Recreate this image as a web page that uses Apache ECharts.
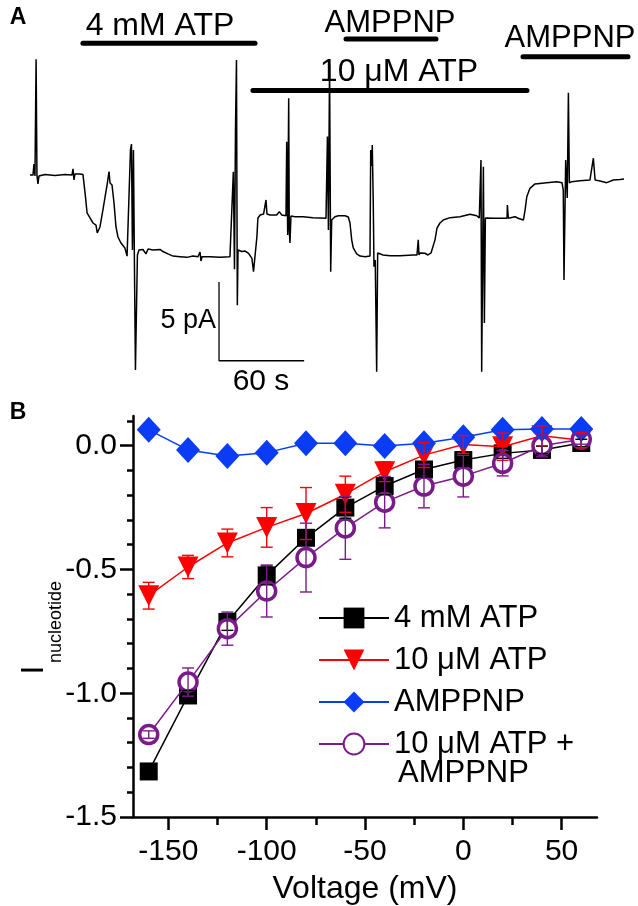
<!DOCTYPE html>
<html><head><meta charset="utf-8">
<script src="https://cdn.jsdelivr.net/npm/echarts@6/dist/echarts.min.js"></script>
<style>html,body{margin:0;padding:0;background:#fff}#c{width:638px;height:906px}</style>
</head><body><div id="c"></div>
<script>
const FONT = '"Liberation Sans", Arial, Helvetica, sans-serif';

// ---------- Panel A: current trace (time in s, current in pA) ----------
const traceTime = [0, 2.1, 2.8, 3.5, 4.3, 4.9, 5.6, 6.3, 10.6, 17.6,
  24.7, 29.6, 30.3, 31.0, 31.7, 35.2, 37.3, 38.8, 40.2, 42.3,
  44.4, 46.5, 47.4, 49.3, 51.4, 52.9, 54.3, 55.7, 56.4, 57.8,
  59.2, 60.6, 62.0, 64.1, 66.9, 68.4, 69.8, 70.8, 71.5, 72.2,
  72.9, 73.6, 74.3, 75.0, 75.7, 76.8, 79.6, 81.0, 81.7, 83.2,
  86.7, 91.6, 93.7, 97.2, 100.8, 105.7, 110.6, 114.9, 118.4, 119.8,
  120.5, 121.2, 126.8, 133.9, 140.9, 142.3, 143.3, 144.1, 144.8, 145.5,
  146.1, 146.6, 147.5, 149.2, 151.6, 154.0, 156.4, 157.5, 158.7, 159.9,
  160.6, 162.2, 164.6, 166.3, 167.0, 169.1, 173.8, 175.7, 177.4, 180.4,
  180.9, 181.6, 182.3, 182.7, 183.2, 183.9, 186.7, 192.4, 199.4, 204.4,
  208.6, 209.6, 210.3, 211.1, 211.9, 212.6, 213.7, 214.9, 217.3, 222.0,
  224.3, 225.5, 226.7, 227.8, 230.2, 232.6, 236.1, 239.6, 240.1, 240.8,
  241.2, 241.9, 242.4, 243.3, 244.3, 245.0, 246.2, 248.8, 253.7, 260.7,
  270.1, 272.7, 273.6, 274.1, 274.8, 278.3, 280.5, 282.6, 284.0, 285.4,
  286.8, 288.9, 291.2, 296.0, 303.0, 310.1, 314.8, 316.6, 317.8, 318.3,
  319.5, 320.2, 320.9, 321.8, 327.7, 333.3, 336.2, 336.4, 337.1, 341.8,
  343.9, 347.7, 348.9, 350.1, 352.3, 355.9, 364.1, 371.2, 374.9, 375.8,
  376.3, 377.5, 378.6, 379.4, 380.1, 381.7, 387.6, 394.6, 397.0, 398.2,
  401.7, 406.4, 411.1, 415.8, 418.6];
const traceCurrent = [0, 0, 0.7, -0.06, 7.35, 0, -0.56, -0.06, 0.04, -0.03,
  0.04, 0, 0.39, -0.31, 0.07, 0.07, 0.04, -1.13, -2.39, -2.72,
  -3.04, -3.17, -3.67, -3.29, -2.21, -1.39, -0.63, 0.22, -0.5, -0.63,
  -1.77, -3.29, -3.93, -4.31, -4.63, -5.14, -5.14, 1.59, 1.97, -4.75,
  1.59, -5.7, -12.37, -12.37, -5.07, -4.75, -4.72, -4.69, -5.0, -4.69,
  -4.75, -4.72, -4.85, -5.0, -5.14, -5.18, -5.22, -5.14, -5.18, -4.88,
  -5.45, -5.18, -5.18, -5.22, -5.18, -5.14, 0.21, -5.98, 2.84, 7.3,
  -8.25, -4.75, -4.75, -4.85, -4.82, -4.97, -5.28, -6.13, -6.19, -3.91,
  -2.72, -2.53, -2.47, -1.58, -2.47, -2.53, -2.53, -2.32, -2.53, -2.58,
  2.12, -3.8, 4.87, -3.48, -4.31, -2.6, -2.64, -2.64, -2.7, -2.72,
  -2.74, 2.44, -3.48, 7.0, -6.13, -2.85, -2.74, -2.64, -2.58, -2.58,
  -2.66, -3.04, -4.11, -4.62, -5.0, -5.14, -5.18, -5.14, 1.59, 0.58,
  1.91, -1.77, -5.81, -5.39, -12.47, -4.94, -4.86, -5.07, -5.11, -5.11,
  -5.07, -5.07, -4.11, -5.07, -4.94, -4.96, -5.07, -4.94, -5.0, -4.11,
  -3.36, -3.04, -2.85, -2.7, -2.64, -2.49, -2.58, -2.72, 0.96, -12.47,
  0.53, -9.38, -2.72, -2.74, -2.74, -2.74, -2.74, -1.9, -2.74, -2.64,
  -2.74, -2.85, -2.2, -1.37, -0.84, -0.56, -0.48, -0.42, -0.48, -0.95,
  -6.66, 0.96, -1.45, 5.23, -0.5, -0.42, -0.36, -0.31, 1.07, -0.31,
  -0.37, -0.48, -0.31, -0.28, -0.25];

// solution application bars (start s, end s, drawn level pA)
const barLabels = ['4 mM ATP', 'AMPPNP', '10 μM ATP', 'AMPPNP'];
const barStart = [37.3, 222.7, 157.1, 347.4];
const barEnd = [158.6, 286.1, 350.2, 421.4];
const barLevel = [8.36, 8.64, 5.36, 7.51];

// scale bar: 5 pA x 60 s
const scaleBarTime = [133.2, 133.2, 193.2];
const scaleBarCurrent = [-6.78, -11.78, -11.78];

// ---------- Panel B: I-V ----------
const voltage = [-160, -140, -120, -100, -80, -60, -40, -20, 0, 20, 40, 60];
const atp4mM = [-1.316, -1.009, -0.712, -0.524, -0.372, -0.25, -0.163, -0.096, -0.058, -0.031, -0.017, 0.011];
const atp4mMErr = [0.01, 0.02, 0.034, 0.038, 0.03, 0.043, 0.035, 0.03, 0.025, 0.02, 0.015, 0.015];
const atp10uM = [-0.606, -0.49, -0.393, -0.33, -0.274, -0.196, -0.105, -0.038, 0.005, -0.004, 0.04, 0.022];
const atp10uMErr = [0.054, 0.047, 0.056, 0.08, 0.105, 0.073, 0.04, 0.05, 0.036, 0.055, 0.04, 0.03];
const amppnp = [0.064, -0.017, -0.042, -0.028, 0.01, 0.01, -0.001, 0.01, 0.034, 0.064, 0.067, 0.067];
const atpAmppnp = [-1.167, -0.955, -0.739, -0.587, -0.452, -0.332, -0.228, -0.163, -0.123, -0.071, 0.0, 0.026];
const atpAmppnpErr = [0.015, 0.057, 0.067, 0.105, 0.139, 0.127, 0.104, 0.088, 0.084, 0.051, 0.045, 0.02];
const xMajorTicks = [-150, -100, -50, 0, 50];
const xMinorTicks = [-125, -75, -25, 25];
const yMajorTicks = [0, -0.5, -1.0, -1.5];
const yMinorTicks = [0.1, -0.1, -0.2, -0.3, -0.4, -0.6, -0.7, -0.8, -0.9, -1.1, -1.2, -1.3, -1.4];

const C_BLACK = '#000000', C_RED = '#ff0000', C_BLUE = '#0a3cf5', C_PURPLE = '#7b1b8b';
const NAME4 = '4 mM ATP', NAME10 = '10 μM ATP', NAMEA = 'AMPPNP', NAMEC = '10 μM ATP + AMPPNP';

const zip = (a, b) => a.map((v, i) => [v, b[i]]);
const zip3 = (a, b, c) => a.map((v, i) => [v, b[i], c[i]]);

function errorBarItem(color) {
  return function (params, api) {
    const x = api.value(0), m = api.value(1), e = api.value(2);
    const hi = api.coord([x, m + e]);
    const lo = api.coord([x, m - e]);
    const hw = 6;
    const st = { stroke: color, lineWidth: 1.4 };
    return { type: 'group', children: [
      { type: 'line', shape: { x1: hi[0], y1: hi[1], x2: lo[0], y2: lo[1] }, style: st },
      { type: 'line', shape: { x1: hi[0] - hw, y1: hi[1], x2: hi[0] + hw, y2: hi[1] }, style: st },
      { type: 'line', shape: { x1: lo[0] - hw, y1: lo[1], x2: lo[0] + hw, y2: lo[1] }, style: st }
    ]};
  };
}

function txt(text, x, y, size, align, vAlign, extra, weight) {
  return Object.assign({
    type: 'text', x: x, y: y, silent: true,
    style: { text: text, fill: '#000', fontSize: size, fontFamily: FONT, fontWeight: weight || 'normal',
      textAlign: align, textVerticalAlign: vAlign, align: align, verticalAlign: vAlign }
  }, extra || {});
}

const axisLineStyle = { color: '#000', width: 2.5 };

const chart = echarts.init(document.getElementById('c'), null, { renderer: 'canvas' });
chart.setOption({
  animation: false,
  backgroundColor: '#fff',
  grid: [
    { left: 30, top: 1.7, width: 596, height: 378.3 },
    { left: 133, top: 416, width: 464, height: 401 }
  ],
  xAxis: [
    { type: 'value', gridIndex: 0, min: 0, max: 420, show: false },
    { type: 'value', gridIndex: 1, min: -168, max: 68, position: 'bottom',
      axisLine: { show: true, onZero: false, lineStyle: axisLineStyle },
      axisTick: { show: true, length: 13, lineStyle: { color: '#000', width: 2.5 }, customValues: xMajorTicks },
      axisLabel: { show: true, margin: 20, fontSize: 30, fontFamily: FONT, color: '#000', customValues: xMajorTicks },
      splitLine: { show: false } },
    { type: 'value', gridIndex: 1, min: -168, max: 68, position: 'bottom',
      axisLine: { show: false, onZero: false },
      axisTick: { show: true, length: 8, lineStyle: { color: '#000', width: 2.5 }, customValues: xMinorTicks },
      axisLabel: { show: false }, splitLine: { show: false } }
  ],
  yAxis: [
    { type: 'value', gridIndex: 0, min: -13, max: 11, show: false },
    { type: 'value', gridIndex: 1, min: -1.5, max: 0.12, position: 'left',
      axisLine: { show: true, onZero: false, lineStyle: axisLineStyle },
      axisTick: { show: true, length: 13, lineStyle: { color: '#000', width: 2.5 }, customValues: yMajorTicks },
      axisLabel: { show: true, margin: 16, fontSize: 30, fontFamily: FONT, color: '#000',
        customValues: yMajorTicks, formatter: v => v.toFixed(1) },
      splitLine: { show: false } },
    { type: 'value', gridIndex: 1, min: -1.5, max: 0.12, position: 'left',
      axisLine: { show: false, onZero: false },
      axisTick: { show: true, length: 6, lineStyle: { color: '#000', width: 2.5 }, customValues: yMinorTicks },
      axisLabel: { show: false }, splitLine: { show: false } }
  ],
  legend: {
    orient: 'vertical', left: 313, top: 594, itemWidth: 70, itemHeight: 26, itemGap: 4,
    textStyle: { fontSize: 31, fontFamily: FONT, color: '#000', lineHeight: 38 },
    data: [NAME4, NAME10, NAMEA, NAMEC],
    formatter: n => n === NAMEC ? '10 μM ATP +' : n
  },
  series: [
    // Panel A trace
    { type: 'line', name: 'trace', xAxisIndex: 0, yAxisIndex: 0, data: zip(traceTime, traceCurrent),
      showSymbol: false, symbol: 'none', sampling: null,
      lineStyle: { color: '#000', width: 1.5 }, z: 2 },
    // scale bar
    { type: 'line', name: 'scale', xAxisIndex: 0, yAxisIndex: 0, data: zip(scaleBarTime, scaleBarCurrent),
      showSymbol: false, symbol: 'none', lineStyle: { color: '#000', width: 1.3 }, z: 2 },
    // application bars
    { type: 'custom', name: 'bars', xAxisIndex: 0, yAxisIndex: 0, clip: false,
      data: zip3(barStart, barEnd, barLevel), encode: { x: [0, 1], y: 2 },
      renderItem: function (params, api) {
        const a = api.coord([api.value(0), api.value(2)]);
        const b = api.coord([api.value(1), api.value(2)]);
        return { type: 'line', shape: { x1: a[0], y1: a[1], x2: b[0], y2: b[1] },
          style: { stroke: '#000', lineWidth: 5, lineCap: 'round' } };
      }, z: 3 },
    // Panel B
    { type: 'line', name: NAME4, xAxisIndex: 1, yAxisIndex: 1, data: zip(voltage, atp4mM),
      symbol: 'rect', symbolSize: 18, color: C_BLACK,
      itemStyle: { color: C_BLACK }, lineStyle: { color: C_BLACK, width: 1.5 }, z: 3 },
    { type: 'line', name: NAME10, xAxisIndex: 1, yAxisIndex: 1, data: zip(voltage, atp10uM),
      symbol: 'triangle', symbolRotate: 180, symbolSize: 21, color: C_RED,
      itemStyle: { color: C_RED }, lineStyle: { color: C_RED, width: 1.5 }, z: 4 },
    { type: 'line', name: NAMEC, xAxisIndex: 1, yAxisIndex: 1, data: zip(voltage, atpAmppnp),
      symbol: 'circle', symbolSize: 18, color: C_PURPLE,
      itemStyle: { color: '#fff', borderColor: C_PURPLE, borderWidth: 3.5 },
      lineStyle: { color: C_PURPLE, width: 1.5 }, z: 5 },
    { type: 'line', name: NAMEA, xAxisIndex: 1, yAxisIndex: 1, data: zip(voltage, amppnp),
      symbol: 'diamond', symbolSize: [24, 26], color: C_BLUE,
      itemStyle: { color: C_BLUE }, lineStyle: { color: C_BLUE, width: 1.5 }, z: 6 },
    { type: 'custom', name: 'err4', xAxisIndex: 1, yAxisIndex: 1, data: zip3(voltage, atp4mM, atp4mMErr),
      encode: { x: 0, y: 1 }, renderItem: errorBarItem(C_BLACK), z: 7 },
    { type: 'custom', name: 'err10', xAxisIndex: 1, yAxisIndex: 1, data: zip3(voltage, atp10uM, atp10uMErr),
      encode: { x: 0, y: 1 }, renderItem: errorBarItem(C_RED), z: 7 },
    { type: 'custom', name: 'errC', xAxisIndex: 1, yAxisIndex: 1, data: zip3(voltage, atpAmppnp, atpAmppnpErr),
      encode: { x: 0, y: 1 }, renderItem: errorBarItem(C_PURPLE), z: 7 }
  ],
  graphic: [
    txt('A', 18, 18, 23, 'center', 'middle', null, 'bold'),
    txt('B', 18, 413, 23, 'center', 'middle', null, 'bold'),
    txt(barLabels[0], 160, 26, 32, 'center', 'middle'),
    txt(barLabels[1], 390, 23, 31, 'center', 'middle'),
    txt(barLabels[2], 399, 72.5, 32, 'center', 'middle'),
    txt(barLabels[3], 570, 38, 31, 'center', 'middle'),
    txt('5 pA', 216, 321, 27, 'right', 'middle'),
    txt('60 s', 261, 382, 30, 'center', 'middle'),
    txt('AMPPNP', 398, 773, 31, 'left', 'middle'),
    txt('Voltage (mV)', 365, 889, 32, 'center', 'middle'),
    txt('I', 34, 670, 32, 'center', 'middle', { rotation: Math.PI / 2 }),
    txt('nucleotide', 56, 663, 18, 'left', 'middle', { rotation: Math.PI / 2 })
  ]
});
</script></body></html>
